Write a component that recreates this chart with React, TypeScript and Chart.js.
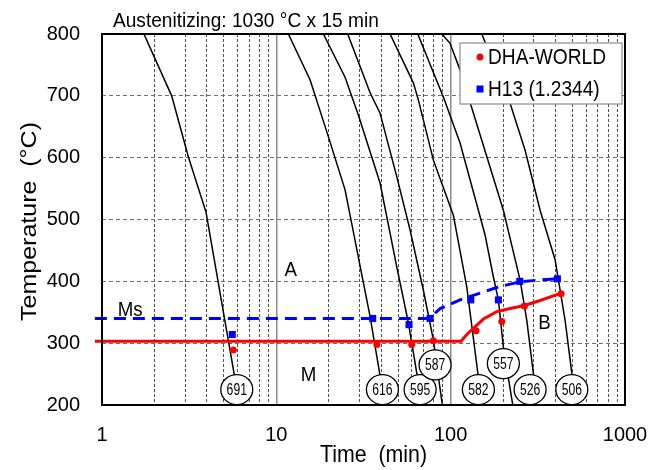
import React, { useEffect, useRef } from 'react';
import { Chart, registerables } from 'chart.js';

Chart.register(...registerables);

const FONT = '"Liberation Sans", Arial, sans-serif';

// Cooling curves [time (min), temperature (°C)]
const curve691 = [[1.74, 800], [2.51, 700], [3.13, 601], [3.95, 512], [5.93, 226]];
const curve616 = [[11.72, 800], [15.61, 726], [19.88, 634], [24.79, 548], [34.5, 343], [40.6, 225]];
const curve595 = [[18.61, 800], [24.79, 730], [29.54, 669], [39.36, 559], [49.1, 423], [57.2, 333], [63.9, 252], [66.8, 225]];
const curve587 = [[25.67, 800], [34.5, 705], [39.36, 672], [49.1, 569], [58.5, 483], [69.7, 386], [79.6, 305], [89.6, 200]];
const curve582 = [[44.9, 800], [61.1, 721], [65.3, 693], [79.6, 596], [103.6, 507], [123.7, 391], [144.2, 245], [144.2, 225]];
const curve557 = [[64.75, 800], [90.8, 698], [113.1, 624], [144.2, 515], [157.5, 475], [175.8, 407], [187.8, 370], [200.6, 294], [227.1, 200]];
const curve526 = [[88.9, 800], [99.2, 785], [113.1, 742], [200.6, 515], [250.2, 402], [273.3, 337], [300, 245]];
const curve506 = [[150.8, 800], [219.1, 688], [267.3, 612], [325.8, 515], [397.2, 435], [453.3, 337], [495.2, 252], [495.2, 225]];
const coolingCurves = [curve691, curve616, curve595, curve587, curve582, curve557, curve526, curve506];

// Hardness labels on the curves
const labelNames = ['691', '616', '595', '587', '582', '557', '526', '506'];
const labelTimes = [5.93, 40.6, 66.8, 81.4, 144.2, 200.6, 285.5, 495.2];
const labelTemps = [225, 225, 225, 265, 225, 267, 225, 225];

// Measured points
const dhaTimes = [5.67, 37.7, 59.8, 79.6, 139.9, 196.4, 264.8, 430];
const dhaTemps = [289, 298, 298, 304, 320, 335, 360, 380];
const h13Times = [5.59, 35.7, 57.7, 76.2, 130.4, 187.8, 249.2, 409.5];
const h13Temps = [314, 340, 330, 340, 370, 370, 400, 404];

// Ms / Bs trend lines
const dhaTrendTimes = [0.91, 114.7, 123.7, 135, 154, 183.9, 219, 264.8, 325.8, 430];
const dhaTrendTemps = [303, 303, 314, 324, 339, 351, 356, 361, 369, 381];
const h13TrendTimes = [0.91, 75.2, 87, 113.1, 147.5, 187.8, 247.9, 318.6, 409.5];
const h13TrendTemps = [340, 340, 356, 370, 381, 391, 399, 402, 404];

// Region texts
const regionTexts = ['Ms', 'A', 'M', 'B'];
const regionTimes = [1.45, 12.1, 15.3, 344.8];
const regionTemps = [354, 418, 248, 332];

const xTickValues = [1, 10, 100, 1000];
const yTickMin = 200;
const yTickMax = 800;
const yTickStep = 100;

const titleText = 'Austenitizing: 1030 °C x 15 min';
const xTitle = 'Time  (min)';
const yTitle = 'Temperature  (°C)';

const SQUEEZE = 0.89;

const zip = (xs: number[], ys: number[]) => xs.map((x, i) => ({ x, y: ys[i] }));
const isPow10 = (v: number) => {
  const l = Math.log10(v);
  return Math.abs(l - Math.round(l)) < 1e-9;
};

// draws text squeezed horizontally (the reference chart is horizontally compressed)
const squeezedText = (ctx: CanvasRenderingContext2D, text: string, x: number, y: number, sx: number) => {
  ctx.save();
  ctx.translate(x, y);
  ctx.scale(sx, 1);
  ctx.fillText(text, 0, 0);
  ctx.restore();
};

const overlayPlugin = {
  id: 'overlay',
  afterDatasetsDraw(chart: any) {
    const { ctx, chartArea, scales } = chart;
    const xs = scales.x;
    const ys = scales.y;
    ctx.save();

    // curve labels
    labelNames.forEach((name, i) => {
      const px = xs.getPixelForValue(labelTimes[i]);
      const py = ys.getPixelForValue(labelTemps[i]);
      ctx.beginPath();
      ctx.ellipse(px, py, 16, 15, 0, 0, Math.PI * 2);
      ctx.fillStyle = '#ffffff';
      ctx.fill();
      ctx.lineWidth = 1.3;
      ctx.strokeStyle = '#000000';
      ctx.stroke();
      ctx.fillStyle = '#000000';
      ctx.font = `16px ${FONT}`;
      ctx.textAlign = 'center';
      ctx.textBaseline = 'middle';
      squeezedText(ctx, name, px, py + 1, 0.76);
    });

    // region texts
    ctx.font = `21px ${FONT}`;
    ctx.fillStyle = '#000000';
    ctx.textAlign = 'center';
    ctx.textBaseline = 'middle';
    regionTexts.forEach((t, i) => {
      squeezedText(ctx, t, xs.getPixelForValue(regionTimes[i]), ys.getPixelForValue(regionTemps[i]), SQUEEZE);
    });

    // frame
    ctx.lineWidth = 2;
    ctx.strokeStyle = '#000000';
    ctx.strokeRect(chartArea.left, chartArea.top, chartArea.right - chartArea.left, chartArea.bottom - chartArea.top);

    // legend
    const bx = chartArea.right - 165;
    const by = chartArea.top + 9;
    ctx.fillStyle = '#ffffff';
    ctx.fillRect(bx, by, 162, 61);
    ctx.lineWidth = 1.2;
    ctx.strokeStyle = '#8c8c8c';
    ctx.strokeRect(bx, by, 162, 61);
    const legendSets = chart.data.datasets.filter((d: any) => d.inLegend);
    legendSets.forEach((d: any, i: number) => {
      const cy = by + 14 + i * 32;
      const cx = bx + 20;
      ctx.fillStyle = d.backgroundColor;
      if (d.pointStyle === 'rect') {
        ctx.fillRect(cx - 3.5, cy - 3.5, 7, 7);
      } else {
        ctx.beginPath();
        ctx.arc(cx, cy, 3.5, 0, Math.PI * 2);
        ctx.fill();
      }
      ctx.fillStyle = '#000000';
      ctx.font = `22px ${FONT}`;
      ctx.textAlign = 'left';
      ctx.textBaseline = 'middle';
      squeezedText(ctx, d.label, bx + 28, cy + 1, 0.87);
    });

    // chart title
    ctx.font = `21px ${FONT}`;
    ctx.textAlign = 'left';
    ctx.textBaseline = 'alphabetic';
    ctx.fillStyle = '#000000';
    squeezedText(ctx, titleText, chartArea.left + 11, 27, 0.91);

    // axis titles
    ctx.font = `24px ${FONT}`;
    ctx.textAlign = 'center';
    ctx.textBaseline = 'middle';
    squeezedText(ctx, xTitle, (chartArea.left + chartArea.right) / 2 + 10, 455, SQUEEZE);
    ctx.save();
    ctx.translate(30, (chartArea.top + chartArea.bottom) / 2 + 2);
    ctx.scale(SQUEEZE, 1);
    ctx.rotate(-Math.PI / 2);
    ctx.font = `25px ${FONT}`;
    ctx.fillText(yTitle, 0, 0);
    ctx.restore();

    ctx.restore();
  },
};

export default function App() {
  const canvasRef = useRef<HTMLCanvasElement | null>(null);

  useEffect(() => {
    if (!canvasRef.current) return;
    Chart.defaults.font.family = FONT;
    const curveSets = coolingCurves.map((c, i) => ({
      label: 'curve ' + labelNames[i],
      data: c.map(([x, y]) => ({ x, y })),
      showLine: true,
      borderColor: '#000000',
      borderWidth: 1.5,
      pointRadius: 0,
      tension: 0,
      fill: false,
    }));
    const chart = new Chart(canvasRef.current, {
      type: 'scatter',
      data: {
        datasets: [
          {
            label: 'DHA-WORLD',
            inLegend: true,
            data: zip(dhaTimes, dhaTemps),
            pointStyle: 'circle',
            pointRadius: 3.5,
            backgroundColor: '#ff0000',
            borderColor: '#ff0000',
            borderWidth: 0,
            showLine: false,
          },
          {
            label: 'H13 (1.2344)',
            inLegend: true,
            data: zip(h13Times, h13Temps),
            pointStyle: 'rect',
            pointRadius: 5,
            backgroundColor: '#0000ff',
            borderColor: '#0000ff',
            borderWidth: 0,
            showLine: false,
          },
          {
            label: 'DHA-WORLD trend',
            data: zip(dhaTrendTimes, dhaTrendTemps),
            showLine: true,
            borderColor: '#ff0000',
            borderWidth: 3,
            pointRadius: 0,
            tension: 0,
            clip: false,
          },
          {
            label: 'H13 trend',
            data: zip(h13TrendTimes, h13TrendTemps),
            showLine: true,
            borderColor: '#0000ff',
            borderWidth: 3,
            borderDash: [12, 7],
            pointRadius: 0,
            tension: 0,
            clip: false,
          },
          ...curveSets,
        ] as any,
      },
      options: {
        animation: false,
        responsive: false,
        layout: { padding: { top: 34, right: 31, left: 0, bottom: 0 } },
        plugins: { legend: { display: false }, tooltip: { enabled: false }, title: { display: false } },
        scales: {
          x: {
            type: 'logarithmic',
            position: 'bottom',
            min: 1,
            max: 1000,
            afterFit: (s: any) => { s.height = 65; s.paddingLeft = 0; s.paddingRight = 0; },
            afterBuildTicks: (s: any) => {
              const t: any[] = [];
              for (let d = 1; d < 1000; d *= 10) {
                for (let k = 1; k <= 9; k++) t.push({ value: d * k, major: k === 1 });
              }
              t.push({ value: 1000, major: true });
              s.ticks = t;
            },
            ticks: {
              autoSkip: false,
              maxRotation: 0,
              padding: 18,
              color: '#000000',
              font: { size: 20, family: FONT },
              callback: (v: any) => (xTickValues.includes(Number(v)) ? String(v) : ''),
            },
            grid: {
              drawTicks: false,
              color: (c: any) => (c.tick && isPow10(c.tick.value) ? '#8c8c8c' : '#505050'),
              lineWidth: (c: any) => (c.tick && isPow10(c.tick.value) ? 1.5 : 1),
            },
            border: {
              display: false,
              dash: (c: any) => (c.tick && !isPow10(c.tick.value) ? [3, 2] : []),
            },
          },
          y: {
            type: 'linear',
            min: yTickMin,
            max: yTickMax,
            afterFit: (s: any) => { s.width = 102; s.paddingTop = 0; s.paddingBottom = 0; },
            ticks: {
              stepSize: yTickStep,
              padding: 22,
              color: '#000000',
              font: { size: 20, family: FONT },
            },
            grid: { drawTicks: false, color: '#707070', lineWidth: 1 },
            border: { display: false, dash: [4, 3] },
          },
        },
      } as any,
      plugins: [overlayPlugin],
    });
    return () => chart.destroy();
  }, []);

  return (
    <div style={{ position: 'fixed', left: 0, top: 0, width: 656, height: 470, background: '#ffffff' }}>
      <canvas ref={canvasRef} width={656} height={470} style={{ display: 'block' }} />
    </div>
  );
}
